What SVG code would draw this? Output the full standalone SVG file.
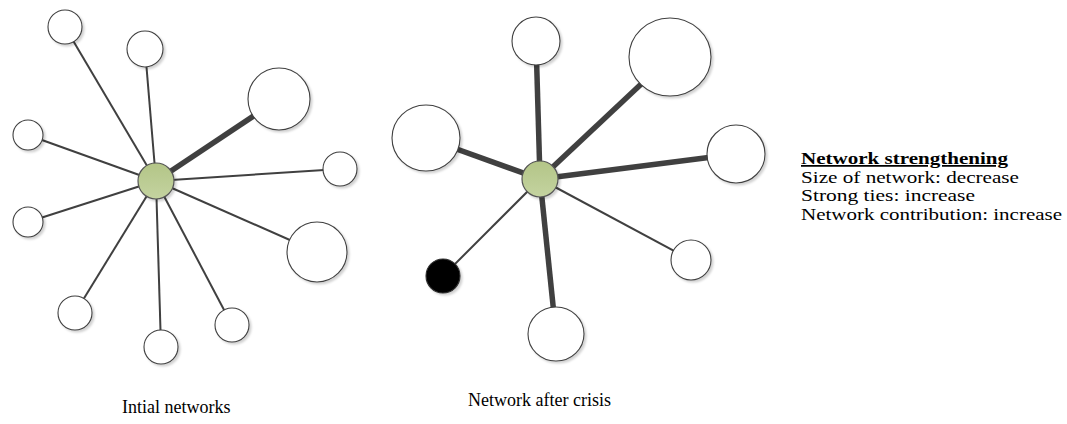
<svg xmlns="http://www.w3.org/2000/svg" width="1067" height="424" viewBox="0 0 1067 424">
<style>
.sat{fill:#fff;stroke:#404040;stroke-width:1.1;filter:url(#sh)}
.blk{fill:#000;stroke:#303030;stroke-width:1.1;filter:url(#sh)}
.hub{fill:url(#hg);stroke:#555;stroke-width:1.2;filter:url(#sh)}
.thin{stroke:#404040;stroke-width:2;stroke-linecap:butt}
.thick{stroke:#404040;stroke-width:5.5;stroke-linecap:butt}
.lbl{font-family:"Liberation Serif","Times New Roman",serif;font-size:18px;fill:#000}
.leg{font-family:"Liberation Serif","Times New Roman",serif;font-size:17.5px;fill:#000}
</style>
<defs>
<linearGradient id="hg" x1="0" y1="0" x2="0" y2="1">
<stop offset="0" stop-color="#b3c587"/>
<stop offset="1" stop-color="#c4d3a0"/>
</linearGradient>
<filter id="sh" x="-30%" y="-30%" width="160%" height="160%">
<feDropShadow dx="2" dy="2" stdDeviation="1.2" flood-color="#000" flood-opacity="0.18"/>
</filter>
</defs>
<rect width="1067" height="424" fill="#fff"/>
<g id="connectors">
<line class="thin" x1="156" y1="181" x2="65" y2="27"/>
<line class="thin" x1="156" y1="181" x2="145" y2="49"/>
<line class="thick" x1="156" y1="181" x2="279" y2="99"/>
<line class="thin" x1="156" y1="181" x2="28" y2="135"/>
<line class="thin" x1="156" y1="181" x2="340" y2="169"/>
<line class="thin" x1="156" y1="181" x2="28" y2="222"/>
<line class="thin" x1="156" y1="181" x2="317" y2="252"/>
<line class="thin" x1="156" y1="181" x2="75" y2="313"/>
<line class="thin" x1="156" y1="181" x2="161" y2="347"/>
<line class="thin" x1="156" y1="181" x2="232" y2="325"/>
<line class="thick" x1="540" y1="179" x2="536" y2="41"/>
<line class="thick" x1="540" y1="179" x2="670" y2="57"/>
<line class="thick" x1="540" y1="179" x2="426" y2="138"/>
<line class="thick" x1="540" y1="179" x2="736" y2="154"/>
<line class="thin" x1="540" y1="179" x2="691" y2="260"/>
<line class="thick" x1="540" y1="179" x2="556" y2="334"/>
<line class="thin" x1="540" y1="179" x2="443" y2="276"/>
</g>
<g id="left-n1"><circle class="sat" cx="65" cy="27" r="17"/></g>
<g id="left-n2"><circle class="sat" cx="145" cy="49" r="18"/></g>
<g id="left-n3"><circle class="sat" cx="279" cy="99" r="31"/></g>
<g id="left-n4"><circle class="sat" cx="28" cy="135" r="15"/></g>
<g id="left-n5"><circle class="sat" cx="340" cy="169" r="17"/></g>
<g id="left-n6"><circle class="sat" cx="28" cy="222" r="15"/></g>
<g id="left-n7"><circle class="sat" cx="317" cy="252" r="30"/></g>
<g id="left-n8"><circle class="sat" cx="75" cy="313" r="17"/></g>
<g id="left-n9"><circle class="sat" cx="161" cy="347" r="17"/></g>
<g id="left-n10"><circle class="sat" cx="232" cy="325" r="17"/></g>
<g id="left-hub"><circle class="hub" cx="156" cy="181" r="18"/></g>
<g id="right-n1"><circle class="sat" cx="536" cy="41" r="24"/></g>
<g id="right-n2"><ellipse class="sat" cx="670" cy="57" rx="41" ry="39"/></g>
<g id="right-n3"><ellipse class="sat" cx="426" cy="138" rx="34" ry="33"/></g>
<g id="right-n4"><ellipse class="sat" cx="736" cy="154" rx="29" ry="29"/></g>
<g id="right-n5"><circle class="sat" cx="691" cy="260" r="20"/></g>
<g id="right-n6"><ellipse class="sat" cx="556" cy="334" rx="28" ry="27"/></g>
<g id="right-n7"><circle class="blk" cx="443" cy="276" r="17"/></g>
<g id="right-hub"><circle class="hub" cx="540" cy="179" r="18"/></g>
<g id="labels">
<text class="lbl" x="122" y="413">Intial networks</text>
<text class="lbl" x="468" y="406">Network after crisis</text>
</g>
<g id="legend">
<text class="leg" x="801" y="164" font-weight="bold" text-decoration="underline" textLength="207" lengthAdjust="spacingAndGlyphs">Network strengthening</text>
<text class="leg" x="801" y="182.5" textLength="218" lengthAdjust="spacingAndGlyphs">Size of network: decrease</text>
<text class="leg" x="801" y="201" textLength="174" lengthAdjust="spacingAndGlyphs">Strong ties: increase</text>
<text class="leg" x="801" y="219.5" textLength="261" lengthAdjust="spacingAndGlyphs">Network contribution: increase</text>
</g>
</svg>
